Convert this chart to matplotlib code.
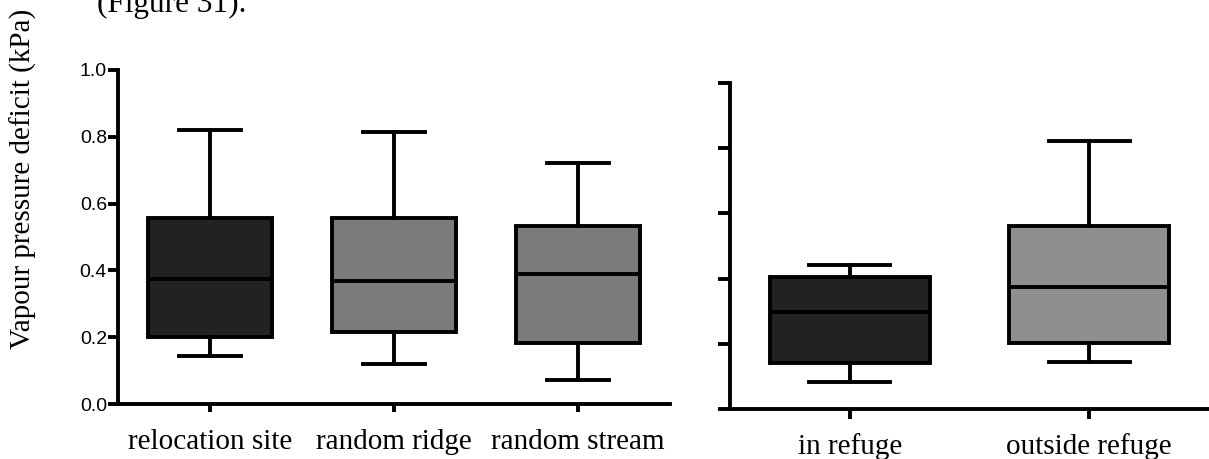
import matplotlib
matplotlib.use("Agg")
import matplotlib.pyplot as plt

# ---- data: five-number summaries (whisker low, Q1, median, Q3, whisker high) ----
site_labels = ["relocation site", "random ridge", "random stream"]
site_low = [0.144, 0.120, 0.072]
site_q1 = [0.200, 0.216, 0.183]
site_med = [0.374, 0.368, 0.389]
site_q3 = [0.557, 0.557, 0.533]
site_high = [0.820, 0.815, 0.721]
site_colors = ["#222222", "#7b7b7b", "#7b7b7b"]

refuge_labels = ["in refuge", "outside refuge"]
refuge_low = [0.083, 0.144]
refuge_q1 = [0.141, 0.202]
refuge_med = [0.298, 0.374]
refuge_q3 = [0.405, 0.561]
refuge_high = [0.442, 0.822]
refuge_colors = ["#222222", "#8f8f8f"]

yticks = [0.0, 0.2, 0.4, 0.6, 0.8, 1.0]

SERIF = ["Liberation Serif", "DejaVu Serif"]
SANS = ["Liberation Sans", "DejaVu Sans"]
LW = 2.8


def make_stats(labels, lo, q1, med, q3, hi):
    return [dict(label=l, whislo=a, q1=b, med=c, q3=d, whishi=e, fliers=[])
            for l, a, b, c, d, e in zip(labels, lo, q1, med, q3, hi)]


def draw_boxes(ax, stats, colors):
    bp = ax.bxp(stats, widths=0.67, patch_artist=True, showfliers=False,
                boxprops=dict(linewidth=LW, edgecolor="black"),
                medianprops=dict(linewidth=LW, color="black"),
                whiskerprops=dict(linewidth=LW, color="black"),
                capprops=dict(linewidth=LW, color="black"),
                capwidths=0.34)
    for patch, c in zip(bp["boxes"], colors):
        patch.set_facecolor(c)
    return bp


def style_axes(ax):
    for side in ("top", "right"):
        ax.spines[side].set_visible(False)
    for side in ("left", "bottom"):
        ax.spines[side].set_linewidth(LW)
        ax.spines[side].set_capstyle("projecting")
    ax.set_ylim(0, 1.0)
    ax.set_yticks(yticks)


fig = plt.figure(figsize=(12.09, 4.59), dpi=100)

# left panel: sites
ax1 = fig.add_axes([0.0976, 0.1198, 0.4566, 0.7277])
draw_boxes(ax1, make_stats(site_labels, site_low, site_q1, site_med, site_q3, site_high),
           site_colors)
ax1.set_xlim(0.5, 3.5)
style_axes(ax1)
ax1.set_yticklabels([f"{v:.1f}" for v in yticks], fontfamily=SANS, fontsize=14)
ax1.tick_params(axis="y", length=7, width=LW, pad=1)
ax1.tick_params(axis="x", length=6, width=LW, pad=12)

# right panel: refuge
ax2 = fig.add_axes([0.6038, 0.1089, 0.3962, 0.7103])
draw_boxes(ax2, make_stats(refuge_labels, refuge_low, refuge_q1, refuge_med, refuge_q3,
                           refuge_high), refuge_colors)
ax2.set_xlim(0.5, 2.5)
style_axes(ax2)
ax2.set_yticklabels([])
ax2.tick_params(axis="y", length=8.5, width=LW)
ax2.tick_params(axis="x", length=7, width=LW, pad=10)

for ax in (ax1, ax2):
    for lab in ax.get_xticklabels():
        lab.set_fontfamily(SERIF)
        lab.set_fontsize(21)

fig.text(0.019, 0.610, "Vapour pressure deficit (kPa)", rotation=90,
         ha="center", va="center", fontfamily=SERIF, fontsize=21)
fig.text(0.080, 0.973, "(Figure 31).", ha="left", va="baseline",
         fontfamily=SERIF, fontsize=22.5)

fig.savefig("out.png", dpi=100)
